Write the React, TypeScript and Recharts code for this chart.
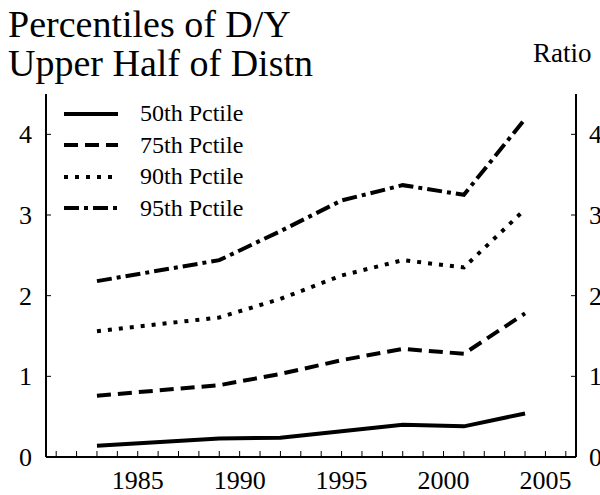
import React from 'react';
import { LineChart, Line, XAxis, YAxis, Legend } from 'recharts';

// survey years and percentile ratios
const years = [1983, 1989, 1992, 1995, 1998, 2001, 2004];
const p50 = [0.14, 0.23, 0.24, 0.32, 0.4, 0.38, 0.54];
const p75 = [0.76, 0.89, 1.03, 1.2, 1.34, 1.28, 1.78];
const p90 = [1.56, 1.73, 1.96, 2.25, 2.44, 2.35, 3.07];
const p95 = [2.18, 2.44, 2.8, 3.18, 3.37, 3.25, 4.19];

const yearTicks = [
  1981, 1982, 1983, 1984, 1985, 1986, 1987, 1988, 1989, 1990, 1991, 1992, 1993,
  1994, 1995, 1996, 1997, 1998, 1999, 2000, 2001, 2002, 2003, 2004, 2005, 2006,
];
const ratioTicks = [0, 1, 2, 3, 4];

const series = [
  { key: 'p50', name: '50th Pctile', dash: undefined },
  { key: 'p75', name: '75th Pctile', dash: '14 7' },
  { key: 'p90', name: '90th Pctile', dash: '4 7' },
  { key: 'p95', name: '95th Pctile', dash: '15 5 4 5' },
];

const data = years.map((year, i) => ({
  year,
  p50: p50[i],
  p75: p75[i],
  p90: p90[i],
  p95: p95[i],
}));

const FONT = '"Liberation Serif", "Times New Roman", serif';

const YearTick = (props: any) => {
  const { x, y, payload } = props;
  const v = payload.value;
  return (
    <g>
      <line x1={x} x2={x} y1={y} y2={y - 6} stroke="#000" strokeWidth={1} />
      {v % 5 === 0 && (
        <text x={x} y={y + 32} textAnchor="middle" fontSize={26} fontFamily={FONT} fill="#000">
          {v}
        </text>
      )}
    </g>
  );
};

const LeftTick = (props: any) => {
  const { x, y, payload } = props;
  return (
    <g>
      {payload.value > 0 && <line x1={x} x2={x + 5} y1={y} y2={y} stroke="#000" strokeWidth={1} />}
      <text x={x - 14} y={y + 9} textAnchor="end" fontSize={26} fontFamily={FONT} fill="#000">
        {payload.value}
      </text>
    </g>
  );
};

const RightTick = (props: any) => {
  const { x, y, payload } = props;
  return (
    <g>
      {payload.value > 0 && <line x1={x} x2={x - 5} y1={y} y2={y} stroke="#000" strokeWidth={1} />}
      <text x={x + 13} y={y + 9} textAnchor="start" fontSize={26} fontFamily={FONT} fill="#000">
        {payload.value}
      </text>
    </g>
  );
};

const LegendBox = () => (
  <div style={{ fontFamily: FONT, fontSize: 24, color: '#000' }}>
    {series.map((s) => (
      <div key={s.key} style={{ display: 'flex', alignItems: 'center', height: 31.5 }}>
        <svg width={54} height={8} style={{ display: 'block' }}>
          <line x1={0} x2={54} y1={4} y2={4} stroke="#000" strokeWidth={4} strokeDasharray={s.dash} />
        </svg>
        <span style={{ marginLeft: 22 }}>{s.name}</span>
      </div>
    ))}
  </div>
);

export default function App() {
  return (
    <div style={{ position: 'absolute', left: 0, top: 0, width: 600, height: 495, background: '#fff' }}>
      <svg
        width={600}
        height={90}
        style={{ position: 'absolute', left: 0, top: 0, zIndex: 2, pointerEvents: 'none' }}
      >
        <text x={8} y={37} fontSize={38} fontFamily={FONT} fill="#000">
          Percentiles of D/Y
        </text>
        <text x={8} y={76} fontSize={38} fontFamily={FONT} fill="#000">
          Upper Half of Distn
        </text>
        <text x={533} y={62} fontSize={27} fontFamily={FONT} fill="#000">
          Ratio
        </text>
      </svg>
      <LineChart width={600} height={495} data={data} margin={{ top: 94, right: 23, bottom: 37, left: 45 }}>
        <XAxis
          dataKey="year"
          type="number"
          domain={[1980.5, 2006.5]}
          ticks={yearTicks}
          interval={0}
          height={1}
          tickSize={0}
          tickMargin={0}
          tickLine={false}
          tick={<YearTick />}
          axisLine={{ stroke: '#000', strokeWidth: 2 }}
          allowDataOverflow
        />
        <YAxis
          yAxisId="left"
          domain={[0, 4.5]}
          ticks={ratioTicks}
          interval={0}
          width={1}
          tickSize={0}
          tickMargin={0}
          tickLine={false}
          tick={<LeftTick />}
          axisLine={{ stroke: '#000', strokeWidth: 2 }}
          allowDataOverflow
        />
        <YAxis
          yAxisId="right"
          orientation="right"
          domain={[0, 4.5]}
          ticks={ratioTicks}
          interval={0}
          width={1}
          tickSize={0}
          tickMargin={0}
          tickLine={false}
          tick={<RightTick />}
          axisLine={{ stroke: '#000', strokeWidth: 2 }}
          allowDataOverflow
        />
        <Legend
          layout="vertical"
          align="center"
          verticalAlign="middle"
          content={<LegendBox />}
          wrapperStyle={{ left: 64, top: 98, width: 240, height: 130 }}
        />
        {series.map((s) => (
          <Line
            key={s.key}
            yAxisId="left"
            type="linear"
            dataKey={s.key}
            name={s.name}
            stroke="#000"
            strokeWidth={4}
            strokeDasharray={s.dash}
            dot={false}
            activeDot={false}
            isAnimationActive={false}
          />
        ))}
      </LineChart>
    </div>
  );
}
